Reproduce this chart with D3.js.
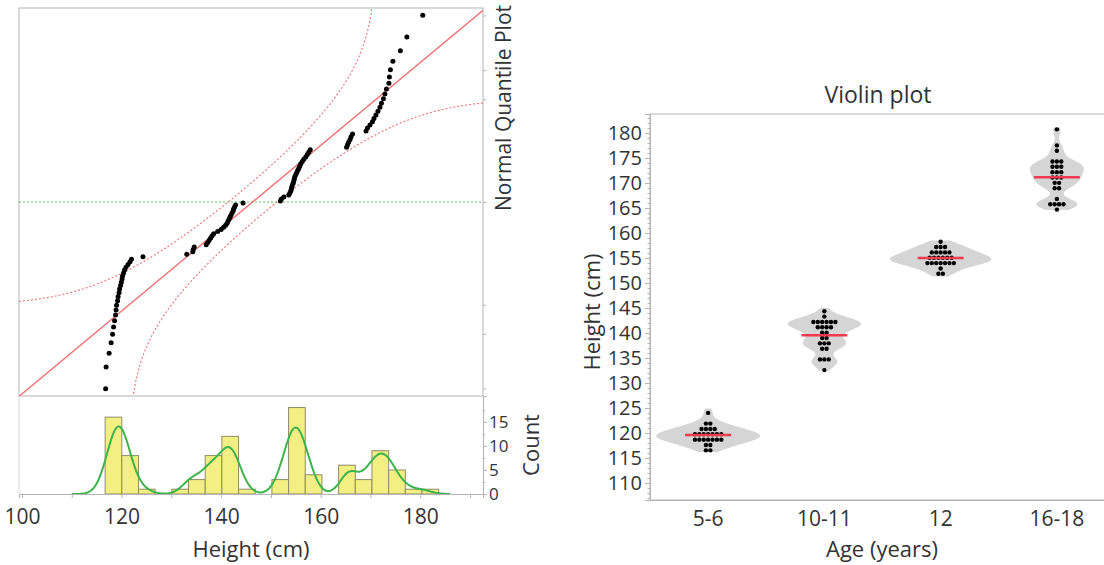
<!DOCTYPE html>
<html>
<head>
<meta charset="utf-8">
<script src="https://cdn.jsdelivr.net/npm/d3@7"></script>
<style>
  body { margin: 0; background: #fff; }
  text { font-family: "Open Sans", sans-serif; fill: #333; }
</style>
</head>
<body>
<svg id="chart"></svg>
<script>
// heights (cm) per age group
const heightsAge56 = [116.8, 116.9, 117.5, 117.9, 118.2, 118.4, 118.6, 118.8, 118.9, 119.0, 119.2, 119.3, 119.5,
  119.6, 119.8, 119.95, 120.1, 120.2, 120.4, 120.6, 120.9, 121.3, 121.7, 122.0, 124.3];
const heightsAge1011 = [133.1, 134.3, 134.4, 134.6, 137.0, 137.3, 137.6, 137.9, 138.2, 138.5, 139.3, 140.0, 140.5,
  140.9, 141.2, 141.4, 141.6, 141.8, 142.0, 142.2, 142.4, 142.5, 142.7, 142.9, 144.4];
const heightsAge12 = [151.9, 152.1, 152.6, 153.6, 153.8, 154.0, 154.1, 154.2, 154.3, 154.5, 154.6, 154.7, 154.8,
  155.0, 155.2, 155.4, 155.6, 155.8, 156.0, 156.3, 156.6, 157.0, 157.3, 157.6, 157.9];
const heightsAge1618 = [165.2, 165.4, 165.6, 165.9, 166.1, 166.4, 169.1, 169.4, 169.9, 170.4, 170.7, 171.1, 171.5,
  171.9, 172.2, 172.6, 172.9, 173.2, 173.7, 173.8, 174.0, 174.5, 176.0, 177.3, 180.5];

const ageGroups = ["5-6", "10-11", "12", "16-18"];
const groupHeights = [heightsAge56, heightsAge1011, heightsAge12, heightsAge1618];

const heightTicks = [100, 110, 120, 130, 140, 150, 160, 170, 180, 190];
const heightLabels = [100, 120, 140, 160, 180];
const countTicks = [0, 5, 10, 15];
const probTicks = [0.01, 0.05, 0.10, 0.50, 0.90, 0.95, 0.99];
const violinTicks = [110, 115, 120, 125, 130, 135, 140, 145, 150, 155, 160, 165, 170, 175, 180];

const binStart = 116.7, binWidth = 3.35, binCount = 20;
const dotOrigin = 117.065, dotStep = 1.07;

const axisGrey = "#b4b4b4";

// normal helpers
function probit(p) {
  var a = [-39.69683028665376, 220.9460984245205, -275.9285104469687, 138.3577518672690, -30.66479806614716, 2.506628277459239];
  var b = [-54.47609879822406, 161.5858368580409, -155.6989798598866, 66.80131188771972, -13.28068155288572];
  var c = [-0.007784894002430293, -0.3223964580411365, -2.400758277161838, -2.549732539343734, 4.374664141464968, 2.938163982698783];
  var d = [0.007784695709041462, 0.3224671290700398, 2.445134137142996, 3.754408661907416];
  var q, r;
  if (p < 0.02425) {
    q = Math.sqrt(-2 * Math.log(p));
    return (((((c[0]*q+c[1])*q+c[2])*q+c[3])*q+c[4])*q+c[5]) / ((((d[0]*q+d[1])*q+d[2])*q+d[3])*q+1);
  }
  if (p > 1 - 0.02425) {
    q = Math.sqrt(-2 * Math.log(1 - p));
    return -(((((c[0]*q+c[1])*q+c[2])*q+c[3])*q+c[4])*q+c[5]) / ((((d[0]*q+d[1])*q+d[2])*q+d[3])*q+1);
  }
  q = p - 0.5; r = q * q;
  return (((((a[0]*r+a[1])*r+a[2])*r+a[3])*r+a[4])*r+a[5])*q / (((((b[0]*r+b[1])*r+b[2])*r+b[3])*r+b[4])*r+1);
}
function normCdf(z) {
  var t = 1 / (1 + 0.2316419 * Math.abs(z));
  var dd = 0.3989423 * Math.exp(-z * z / 2);
  var p = dd * t * (0.3193815 + t * (-0.3565638 + t * (1.781478 + t * (-1.821256 + t * 1.330274))));
  return z > 0 ? 1 - p : p;
}
function kde(values, h, points) {
  return points.map(function (v) {
    return [v, d3.mean(values, function (x) {
      var u = (v - x) / h;
      return Math.exp(-0.5 * u * u) / (Math.sqrt(2 * Math.PI) * h);
    })];
  });
}

var svg = d3.select("#chart").attr("width", 1104).attr("height", 565);

// ---------- left: normal quantile plot + histogram ----------
var allHeights = d3.sort(d3.merge(groupHeights));
var n = allHeights.length;
var mu = d3.mean(allHeights), sd = d3.deviation(allHeights);

var x = d3.scaleLinear().domain([99.4, 192.6]).range([19, 483]);
var qy = d3.scaleLinear().domain([-2.42, 2.42]).range([396, 8]);
var cy = d3.scaleLinear().domain([0, 20.4]).range([494, 396]);

svg.append("clipPath").attr("id", "qqclip")
  .append("rect").attr("x", 19).attr("y", 8).attr("width", 464).attr("height", 388);

svg.append("rect")
  .attr("x", 19).attr("y", 8).attr("width", 464).attr("height", 388)
  .attr("fill", "none").attr("stroke", axisGrey);
svg.append("line")
  .attr("x1", 19).attr("x2", 19).attr("y1", 396).attr("y2", 494)
  .attr("stroke", "#d8d8d8");

var qq = svg.append("g").attr("clip-path", "url(#qqclip)");

qq.append("line")
  .attr("x1", x.range()[0]).attr("x2", x.range()[1])
  .attr("y1", qy(0)).attr("y2", qy(0))
  .attr("stroke", "#5cbf5c").attr("stroke-width", 1.2).attr("stroke-dasharray", "2,2");

// Lilliefors-style confidence curves
var bandD = 0.1;
var grid = d3.range(x.domain()[0], x.domain()[1] + 0.02, 0.02);
var upper = [], lower = [];
grid.forEach(function (v) {
  var p = normCdf((v - mu) / sd);
  if (p + bandD < 1) upper.push([v, Math.min(4, probit(p + bandD))]);
  if (p - bandD > 0) lower.push([v, Math.max(-4, probit(p - bandD))]);
});
var qline = d3.line().x(function (d) { return x(d[0]); }).y(function (d) { return qy(d[1]); });
[upper, lower].forEach(function (band) {
  qq.append("path").attr("d", qline(band))
    .attr("fill", "none").attr("stroke", "#f07272").attr("stroke-width", 1.1)
    .attr("stroke-dasharray", "2,2");
});

qq.append("path")
  .attr("d", qline(qy.domain().map(function (z) { return [mu + sd * z, z]; })))
  .attr("stroke", "#f06a6a").attr("stroke-width", 1.3).attr("fill", "none");

qq.selectAll(".qqpt")
  .data(allHeights)
  .join("circle")
  .attr("class", "qqpt")
  .attr("cx", function (d) { return x(d); })
  .attr("cy", function (d, i) { return qy(probit((i + 1) / (n + 1))); })
  .attr("r", 2.5)
  .attr("fill", "#000");

var qqAxis = svg.append("g")
  .attr("transform", "translate(483,0)")
  .call(d3.axisRight(qy).tickValues(probTicks.map(probit)).tickSize(3).tickFormat(""));
qqAxis.select(".domain").remove();
qqAxis.selectAll("line").attr("stroke", axisGrey);

svg.append("text")
  .attr("transform", "translate(504,108) rotate(-90)")
  .attr("text-anchor", "middle").attr("dy", "0.35em")
  .style("font-size", "21px")
  .text("Normal Quantile Plot");

// histogram
var thresholds = d3.range(binCount + 1).map(function (i) { return binStart + i * binWidth; });
var bins = d3.bin().domain([thresholds[0], thresholds[binCount]]).thresholds(thresholds)(allHeights);

svg.selectAll(".hbar")
  .data(bins.filter(function (b) { return b.length > 0; }))
  .join("rect")
  .attr("class", "hbar")
  .attr("x", function (b) { return x(b.x0); })
  .attr("width", function (b) { return x(b.x1) - x(b.x0); })
  .attr("y", function (b) { return cy(b.length); })
  .attr("height", function (b) { return cy(0) - cy(b.length); })
  .attr("fill", "#f3ef82").attr("stroke", "#8f8c66").attr("stroke-width", 1);

var histKde = kde(allHeights, 1.8, d3.range(110, 186.01, 0.25));
svg.append("path")
  .attr("d", d3.line()
    .x(function (d) { return x(d[0]); })
    .y(function (d) { return cy(d[1] * n * binWidth); })
    .curve(d3.curveBasis)(histKde))
  .attr("fill", "none").attr("stroke", "#3cb44b").attr("stroke-width", 2);

var hx = svg.append("g")
  .attr("transform", "translate(0,494)")
  .call(d3.axisBottom(x).tickValues(heightTicks).tickSize(4).tickPadding(11)
    .tickFormat(function (d) { return heightLabels.indexOf(d) >= 0 ? d : ""; }));
hx.select(".domain").attr("stroke", axisGrey);
hx.selectAll("line").attr("stroke", axisGrey);
hx.selectAll("text").style("font-size", "21px").attr("fill", "#333");

var hy = svg.append("g")
  .attr("transform", "translate(483,0)")
  .call(d3.axisRight(cy).tickValues(countTicks).tickSize(4).tickPadding(2));
hy.select(".domain").attr("stroke", axisGrey);
hy.selectAll("line").attr("stroke", axisGrey);
hy.selectAll("text").style("font-size", "17px").attr("fill", "#333");
svg.append("g")
  .attr("transform", "translate(483,0)")
  .call(d3.axisRight(cy).tickValues(d3.range(2.5, 20, 5)).tickSize(2).tickFormat(""))
  .call(function (g) { g.select(".domain").remove(); g.selectAll("line").attr("stroke", axisGrey); });

svg.append("text")
  .attr("transform", "translate(531,445) rotate(-90)")
  .attr("text-anchor", "middle").attr("dy", "0.35em")
  .style("font-size", "22px")
  .text("Count");

svg.append("text")
  .attr("x", 251).attr("y", 549)
  .attr("text-anchor", "middle").attr("dy", "0.35em")
  .style("font-size", "22px")
  .text("Height (cm)");

// ---------- right: violin plot ----------
var vx = d3.scaleBand().domain(ageGroups).range([650, 1115]);
var vy = d3.scaleLinear().domain([106.6, 183.8]).range([500, 114]);

svg.append("rect")
  .attr("x", 650).attr("y", 114).attr("width", 465).attr("height", 386)
  .attr("fill", "none").attr("stroke", axisGrey);

var violinData = groupHeights.map(function (vals, i) {
  var lo = d3.min(vals) - 0.6, hi = d3.max(vals) + 0.6;
  return { group: ageGroups[i], values: vals, mean: d3.mean(vals), density: kde(vals, 1.0, d3.range(lo, hi + 0.001, 0.1)) };
});
var maxDensity = d3.max(violinData, function (g) { return d3.max(g.density, function (d) { return d[1]; }); });
var vw = d3.scaleLinear().domain([0, maxDensity]).range([0, 52]);

violinData.forEach(function (g) {
  var cx = vx(g.group) + vx.bandwidth() / 2;

  svg.append("path")
    .attr("d", d3.area()
      .y(function (d) { return vy(d[0]); })
      .x0(function (d) { return cx - vw(d[1]); })
      .x1(function (d) { return cx + vw(d[1]); })
      .curve(d3.curveBasis)(g.density))
    .attr("fill", "#d5d5d5");

  // stacked dots
  var rows = d3.groups(g.values, function (v) { return Math.floor((v - dotOrigin) / dotStep); });
  rows.forEach(function (row) {
    var k = row[1].length;
    var yc = vy(dotOrigin + (row[0] + 0.5) * dotStep);
    row[1].forEach(function (v, j) {
      svg.append("circle")
        .attr("cx", cx + (j - (k - 1) / 2) * 4.4)
        .attr("cy", yc)
        .attr("r", 2.2)
        .attr("fill", "#000");
    });
  });

  svg.append("line")
    .attr("x1", cx - 23).attr("x2", cx + 23)
    .attr("y1", vy(g.mean)).attr("y2", vy(g.mean))
    .attr("stroke", "#ef3a4f").attr("stroke-width", 2.5);
});

var vyAxis = svg.append("g")
  .attr("transform", "translate(650,0)")
  .call(d3.axisLeft(vy).tickValues(violinTicks).tickSize(5).tickPadding(3));
vyAxis.select(".domain").attr("stroke", axisGrey);
vyAxis.selectAll("line").attr("stroke", axisGrey);
vyAxis.selectAll("text").style("font-size", "20px").attr("fill", "#333");
svg.append("g")
  .attr("transform", "translate(650,0)")
  .call(d3.axisLeft(vy).tickValues(d3.range(107, 184)).tickSize(2.5).tickFormat(""))
  .call(function (g) { g.select(".domain").remove(); g.selectAll("line").attr("stroke", axisGrey); });

var vxAxis = svg.append("g")
  .attr("transform", "translate(0,500)")
  .call(d3.axisBottom(vx).tickSize(0).tickPadding(11));
vxAxis.select(".domain").attr("stroke", axisGrey);
vxAxis.selectAll("text").style("font-size", "21px").attr("fill", "#333");

svg.append("text")
  .attr("x", 878).attr("y", 95)
  .attr("text-anchor", "middle").attr("dy", "0.35em")
  .style("font-size", "23px")
  .text("Violin plot");

svg.append("text")
  .attr("transform", "translate(592,312) rotate(-90)")
  .attr("text-anchor", "middle").attr("dy", "0.35em")
  .style("font-size", "22px")
  .text("Height (cm)");

svg.append("text")
  .attr("x", 882).attr("y", 549)
  .attr("text-anchor", "middle").attr("dy", "0.35em")
  .style("font-size", "22px")
  .text("Age (years)");
</script>
</body>
</html>
